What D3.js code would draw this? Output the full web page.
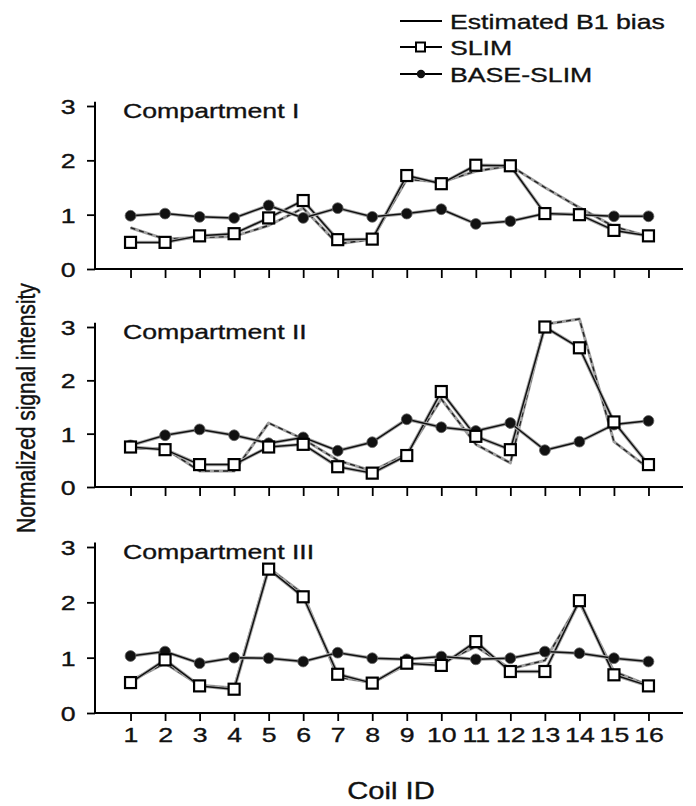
<!DOCTYPE html>
<html>
<head>
<meta charset="utf-8">
<script src="https://cdn.jsdelivr.net/npm/d3@7"></script>
<style>
  body { margin: 0; background: #fff; }
  svg { display: block; font-family: "Liberation Sans", Arial, sans-serif; }
</style>
</head>
<body>
<svg id="chart" width="696" height="806"></svg>
<script>
// coil ids and per-compartment values
var coilIds = [1, 2, 3, 4, 5, 6, 7, 8, 9, 10, 11, 12, 13, 14, 15, 16];
var yTicks = [0, 1, 2, 3];
var panelTitles = ["Compartment I", "Compartment II", "Compartment III"];
var seriesNames = ["Estimated B1 bias", "SLIM", "BASE-SLIM"];

var biasI = [0.76, 0.55, 0.58, 0.6, 0.8, 1.12, 0.46, 0.55, 1.65, 1.6, 1.8, 1.9, 1.5, 1.13, 0.78, 0.6];
var slimI = [0.49, 0.49, 0.61, 0.65, 0.94, 1.26, 0.54, 0.55, 1.72, 1.57, 1.91, 1.9, 1.02, 1.0, 0.71, 0.61];
var baseI = [0.98, 1.02, 0.96, 0.94, 1.17, 0.94, 1.12, 0.96, 1.02, 1.1, 0.83, 0.88, 1.02, 1.0, 0.97, 0.97];

var biasII = [0.72, 0.72, 0.3, 0.3, 1.2, 0.9, 0.5, 0.3, 0.62, 1.65, 0.8, 0.45, 3.05, 3.15, 0.85, 0.35];
var slimII = [0.75, 0.7, 0.42, 0.42, 0.75, 0.8, 0.38, 0.26, 0.59, 1.79, 0.95, 0.7, 3.0, 2.61, 1.22, 0.42];
var baseII = [0.78, 0.97, 1.08, 0.97, 0.82, 0.93, 0.68, 0.84, 1.27, 1.12, 1.05, 1.2, 0.69, 0.85, 1.17, 1.24];

var biasIII = [0.58, 0.9, 0.5, 0.45, 2.62, 2.15, 0.65, 0.55, 0.88, 0.9, 1.2, 0.8, 0.95, 2.0, 0.75, 0.5];
var slimIII = [0.55, 0.96, 0.49, 0.43, 2.6, 2.1, 0.7, 0.54, 0.9, 0.86, 1.29, 0.75, 0.75, 2.03, 0.69, 0.49];
var baseIII = [1.03, 1.11, 0.9, 1.0, 0.99, 0.93, 1.09, 0.99, 0.97, 1.02, 0.97, 0.99, 1.11, 1.08, 0.99, 0.93];

var panelData = [
	{ bias: biasI, slim: slimI, base: baseI },
	{ bias: biasII, slim: slimII, base: baseII },
	{ bias: biasIII, slim: slimIII, base: baseIII }
];

var svg = d3.select('#chart');
var SX = 1.27;   // the original figure is stretched sideways
var fontSize = 21;

// panel vertical ranges [bottom, top]
var panelRanges = [[269, 106], [487, 327], [713, 547]];

var xScale = d3.scaleLinear().domain([0, 17]).range([96, 683]);

function stretchedText(x, y, txt, size, anchor) {
	return svg.append('text')
		.attr('transform', 'translate(' + [x, y] + ') scale(' + SX + ',1)')
		.attr('text-anchor', anchor || 'start')
		.attr('font-size', size)
		.attr('fill', '#111')
		.attr('stroke', '#111')
		.attr('stroke-width', 0.35)
		.text(txt);
}

function drawLine(g, values, y, stroke, width, dash) {
	var line = d3.line()
		.x(function (d, i) { return xScale(coilIds[i]); })
		.y(function (d) { return y(d); });
	g.append('path')
		.datum(values)
		.attr('d', line)
		.attr('fill', 'none')
		.attr('stroke', stroke)
		.attr('stroke-width', width)
		.attr('stroke-linejoin', 'round')
		.attr('stroke-dasharray', dash || null);
}

panelData.forEach(function (p, idx) {
	var yScale = d3.scaleLinear().domain([0, 3]).range(panelRanges[idx]);
	var g = svg.append('g');

	// axes
	var yAxis = d3.axisLeft(yScale).tickValues(yTicks).tickSize(8).tickPadding(3).tickFormat(d3.format('d'));
	var ga = g.append('g').attr('transform', 'translate(' + [xScale(0) - 1, 0] + ')').call(yAxis);
	ga.select('.domain').attr('d', 'M0,' + (yScale(0)) + 'V' + (yScale(3.08)));
	ga.selectAll('text').attr('font-size', fontSize).attr('font-family', 'Liberation Sans, Arial, sans-serif')
		.attr('x', -12 * SX).attr('transform', 'scale(' + SX + ',1)').attr('dy', '0.36em')
		.attr('fill', '#111').attr('stroke', '#111').attr('stroke-width', 0.35);

	var xAxis = d3.axisBottom(xScale).tickValues(coilIds).tickSize(idx === 2 ? 8 : 9)
		.tickFormat(function (d) { return idx === 2 ? d : ''; });
	var gx = g.append('g').attr('transform', 'translate(' + [0, yScale(0)] + ')').call(xAxis);
	gx.select('.domain').attr('d', 'M' + (xScale(0) - 1) + ',0H' + xScale(17));
	gx.selectAll('text').attr('font-size', fontSize).attr('font-family', 'Liberation Sans, Arial, sans-serif')
		.attr('transform', 'scale(' + SX + ',1)').attr('y', 14)
		.attr('fill', '#111').attr('stroke', '#111').attr('stroke-width', 0.35);
	g.selectAll('.domain').attr('stroke', '#000').attr('stroke-width', 2);
	g.selectAll('.tick line').attr('stroke', '#000').attr('stroke-width', 1.8);

	// estimated B1 bias: grey line with darker dashes
	drawLine(g, p.bias, yScale, '#a0a0a0', 3);
	drawLine(g, p.bias, yScale, '#222', 1.4, '5,4');
	// SLIM and BASE-SLIM lines
	drawLine(g, p.slim, yScale, '#aaa', 3.4);
	drawLine(g, p.slim, yScale, '#111', 1.5);
	drawLine(g, p.base, yScale, '#aaa', 3.4);
	drawLine(g, p.base, yScale, '#111', 1.5);

	g.append('g').selectAll('circle')
		.data(p.base)
		.enter()
		.append('circle')
		.attr('cx', function (d, i) { return xScale(coilIds[i]); })
		.attr('cy', function (d) { return yScale(d); })
		.attr('r', 5.4)
		.attr('fill', '#111')
		.attr('stroke', '#666')
		.attr('stroke-width', 0.8);

	g.append('g').selectAll('rect')
		.data(p.slim)
		.enter()
		.append('rect')
		.attr('x', function (d, i) { return xScale(coilIds[i]) - 5.5; })
		.attr('y', function (d) { return yScale(d) - 5.5; })
		.attr('width', 11)
		.attr('height', 11)
		.attr('fill', '#fff')
		.attr('stroke', '#000')
		.attr('stroke-width', 2.2);

	stretchedText(123, panelRanges[idx][1] + 12, panelTitles[idx], fontSize);
});

// legend
var legendY = [21, 47, 74];
seriesNames.forEach(function (name, i) {
	var y = legendY[i];
	svg.append('line').attr('x1', 400).attr('x2', 442).attr('y1', y).attr('y2', y)
		.attr('stroke', '#000').attr('stroke-width', 1.8);
	if (i === 1) {
		svg.append('rect').attr('x', 416).attr('y', y - 4.5).attr('width', 9).attr('height', 9)
			.attr('fill', '#fff').attr('stroke', '#000').attr('stroke-width', 2);
	}
	if (i === 2) {
		svg.append('circle').attr('cx', 421).attr('cy', y).attr('r', 4.2).attr('fill', '#111');
	}
	stretchedText(450, y + 7.5, name, fontSize);
});

// axis titles
stretchedText(391, 799, 'Coil ID', 23, 'middle');
svg.append('text')
	.attr('transform', 'translate(' + [35, 408] + ') rotate(-90) scale(1,' + SX + ')')
	.attr('text-anchor', 'middle')
	.attr('font-size', fontSize)
	.attr('fill', '#111')
	.attr('stroke', '#111')
	.attr('stroke-width', 0.35)
	.text('Normalized signal intensity');
</script>
</body>
</html>
